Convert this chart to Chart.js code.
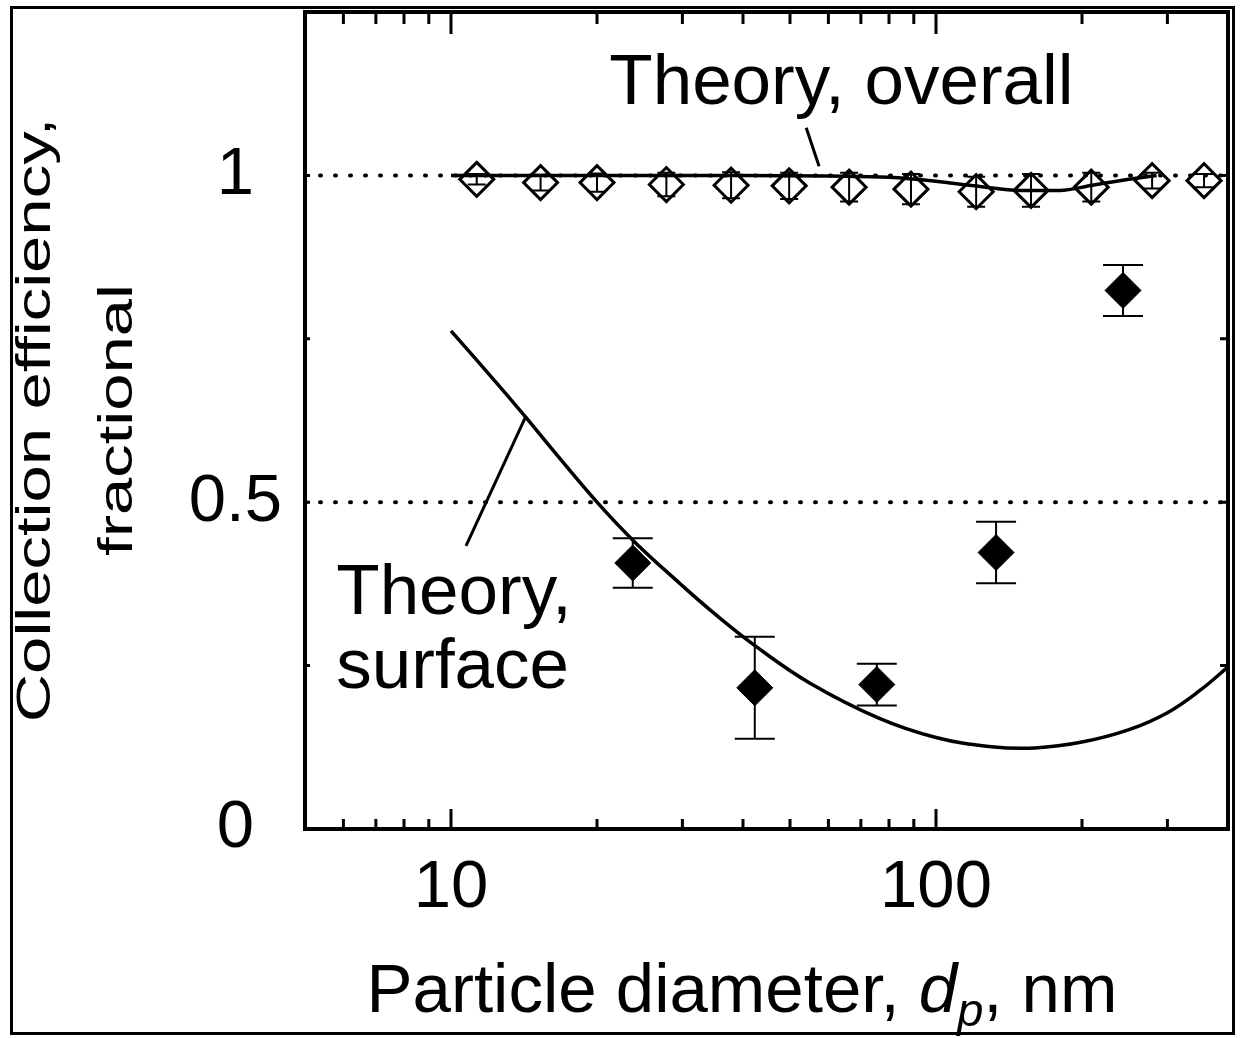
<!DOCTYPE html>
<html>
<head>
<meta charset="utf-8">
<script src="https://cdn.jsdelivr.net/npm/chart.js@4/dist/chart.umd.min.js"></script>
<style>
  html, body { margin: 0; padding: 0; background: #fff; }
  #wrap { width: 1243px; height: 1038px; }
</style>
</head>
<body>
<div id="wrap"><canvas id="effChart" width="1243" height="1038"></canvas></div>
<script>
// measured points, overall collection (open diamonds)
const overallDiam = [11.3, 15.3, 20, 27.8, 37.8, 49.8, 66.2, 88.8, 121, 157, 209, 279, 357];
const overallEff = [0.994, 0.989, 0.989, 0.986, 0.985, 0.984, 0.982, 0.979, 0.975, 0.977, 0.982, 0.992, 0.992];
const overallErr = [0.008, 0.012, 0.014, 0.018, 0.02, 0.02, 0.022, 0.023, 0.023, 0.025, 0.022, 0.012, 0.01];

// measured points, surface collection (filled diamonds)
const surfaceDiam = [23.7, 42.3, 75.5, 133, 243];
const surfaceEff = [0.407, 0.216, 0.221, 0.423, 0.824];
const surfaceErr = [0.038, 0.078, 0.032, 0.047, 0.039];

// theory curves
const theoryOverallDiam = [10, 20, 40, 60, 80, 100, 120, 150, 180, 210, 250, 285];
const theoryOverallEff = [1, 1, 1, 0.999, 0.997, 0.991, 0.984, 0.977, 0.977, 0.985, 0.994, 1.0];
const theorySurfaceDiam = [10, 12.5, 14.3, 16, 20, 24, 29.5, 35, 42.6, 55, 76, 100, 130, 160, 200, 250, 300, 350, 400];
const theorySurfaceEff = [0.762, 0.68, 0.629, 0.585, 0.5, 0.438, 0.377, 0.329, 0.279, 0.223, 0.17, 0.14, 0.126, 0.124, 0.133, 0.152, 0.178, 0.212, 0.248];

// dotted reference levels
const refLevels = [1, 0.5];

// axes
const xMin = 5, xMax = 400;
const xTickValues = [5, 6, 7, 8, 9, 10, 20, 30, 40, 50, 60, 70, 80, 90, 100, 200, 300, 400];
const xLabelValues = [10, 100];
const yTickValues = [0, 0.25, 0.5, 0.75, 1, 1.25];
const yLabelValues = [0, 0.5, 1];

// annotation anchors (data coords)
const overallNote = { x: 21.2, y: 1.11 };
const surfaceNote = { x: 5.8, y1: 0.329, y2: 0.216 };
const overallLeader = [{ x: 54, y: 1.073 }, { x: 57.4, y: 1.014 }];
const surfaceLeader = [{ x: 10.74, y: 0.433 }, { x: 14.28, y: 0.632 }];

const FONT = '"Liberation Sans", Arial, Helvetica, sans-serif';

const pts = (xs, ys) => xs.map((x, i) => ({ x: x, y: ys[i] }));

const errorBars = {
  id: 'errorBars',
  afterDatasetsDraw(chart) {
    const ctx = chart.ctx;
    const x = chart.scales.x, y = chart.scales.y;
    ctx.save();
    ctx.strokeStyle = '#000';
    ctx.lineWidth = 2;
    const draw = (xs, ys, es, cap) => {
      xs.forEach((d, i) => {
        const px = x.getPixelForValue(d);
        const top = y.getPixelForValue(ys[i] + es[i]);
        const bot = y.getPixelForValue(ys[i] - es[i]);
        ctx.beginPath();
        ctx.moveTo(px, top); ctx.lineTo(px, bot);
        ctx.moveTo(px - cap, top); ctx.lineTo(px + cap, top);
        ctx.moveTo(px - cap, bot); ctx.lineTo(px + cap, bot);
        ctx.stroke();
      });
    };
    draw(overallDiam, overallEff, overallErr, 9);
    draw(surfaceDiam, surfaceEff, surfaceErr, 20);
    ctx.restore();
  }
};

const frameAndText = {
  id: 'frameAndText',
  afterDraw(chart) {
    const ctx = chart.ctx;
    const a = chart.chartArea;
    const x = chart.scales.x, y = chart.scales.y;
    ctx.save();
    ctx.strokeStyle = '#000';
    ctx.fillStyle = '#000';

    // inward ticks
    ctx.lineWidth = 3;
    ctx.beginPath();
    xTickValues.forEach(v => {
      const px = x.getPixelForValue(v);
      const major = xLabelValues.includes(v);
      ctx.moveTo(px, a.bottom); ctx.lineTo(px, a.bottom - (major ? 20 : 10));
      ctx.moveTo(px, a.top); ctx.lineTo(px, a.top + (major ? 22 : 12));
    });
    yTickValues.forEach(v => {
      const py = y.getPixelForValue(v);
      ctx.moveTo(a.left, py); ctx.lineTo(a.left + 5, py);
      ctx.moveTo(a.right, py); ctx.lineTo(a.right - 8, py);
    });
    ctx.stroke();

    // plot box
    ctx.lineWidth = 4;
    ctx.strokeRect(a.left, a.top, a.right - a.left, a.bottom - a.top);

    // outer frame
    ctx.lineWidth = 3;
    ctx.strokeRect(11.5, 7.5, 1222, 1026);

    // curve labels
    ctx.font = '71px ' + FONT;
    ctx.textAlign = 'left';
    ctx.textBaseline = 'alphabetic';
    ctx.fillText('Theory, overall', x.getPixelForValue(overallNote.x), y.getPixelForValue(overallNote.y));
    ctx.fillText('Theory,', x.getPixelForValue(surfaceNote.x), y.getPixelForValue(surfaceNote.y1));
    ctx.fillText('surface', x.getPixelForValue(surfaceNote.x), y.getPixelForValue(surfaceNote.y2));

    // x title with italic d and subscript p
    const parts = [
      { t: 'Particle diameter, ', f: '69px ' + FONT, dy: 0 },
      { t: 'd', f: 'italic 69px ' + FONT, dy: 0 },
      { t: 'p', f: 'italic 47px ' + FONT, dy: 14 },
      { t: ', nm', f: '69px ' + FONT, dy: 0 }
    ];
    let total = 0;
    parts.forEach(p => { ctx.font = p.f; p.w = ctx.measureText(p.t).width; total += p.w; });
    let cx = 742 - total / 2;
    parts.forEach(p => {
      ctx.font = p.f;
      ctx.fillText(p.t, cx, 1012 + p.dy);
      cx += p.w;
    });

    // y title, two rotated lines (condensed)
    ctx.font = '67px ' + FONT;
    ctx.textAlign = 'center';
    [['Collection efficiency,', 50], ['fractional', 132]].forEach(([t, bx]) => {
      ctx.save();
      ctx.translate(bx, 420);
      ctx.rotate(-Math.PI / 2);
      ctx.scale(1, 0.72);
      ctx.fillText(t, 0, 0);
      ctx.restore();
    });
    ctx.restore();
  }
};

const ctx = document.getElementById('effChart').getContext('2d');

new Chart(ctx, {
  type: 'scatter',
  data: {
    datasets: [
      {
        data: pts(surfaceDiam, surfaceEff),
        pointStyle: 'rectRot',
        pointRadius: 18,
        pointBackgroundColor: '#000',
        pointBorderColor: '#000',
        pointBorderWidth: 1
      },
      {
        data: pts(overallDiam, overallEff),
        pointStyle: 'rectRot',
        pointRadius: 17,
        pointBackgroundColor: 'rgba(0,0,0,0)',
        pointBorderColor: '#000',
        pointBorderWidth: 3
      },
      {
        data: pts(theoryOverallDiam, theoryOverallEff),
        showLine: true,
        borderColor: '#000',
        borderWidth: 3.5,
        pointRadius: 0,
        cubicInterpolationMode: 'monotone'
      },
      {
        data: pts(theorySurfaceDiam, theorySurfaceEff),
        showLine: true,
        borderColor: '#000',
        borderWidth: 3.5,
        pointRadius: 0,
        tension: 0.4
      },
      {
        data: overallLeader,
        showLine: true,
        borderColor: '#000',
        borderWidth: 3,
        pointRadius: 0
      },
      {
        data: surfaceLeader,
        showLine: true,
        borderColor: '#000',
        borderWidth: 3,
        pointRadius: 0
      },
      ...refLevels.map(level => ({
        data: [{ x: xMin, y: level }, { x: xMax, y: level }],
        showLine: true,
        borderColor: '#000',
        borderWidth: 4,
        borderDash: [1, 14],
        borderCapStyle: 'round',
        pointRadius: 0
      }))
    ]
  },
  options: {
    responsive: false,
    animation: false,
    devicePixelRatio: 1,
    events: [],
    layout: { autoPadding: false, padding: { top: 12, right: 15, left: 0, bottom: 0 } },
    plugins: {
      legend: { display: false },
      tooltip: { enabled: false }
    },
    scales: {
      x: {
        type: 'logarithmic',
        min: xMin,
        max: xMax,
        afterBuildTicks: (scale) => { scale.ticks = xTickValues.map(v => ({ value: v })); },
        afterFit: (scale) => {
          scale.height = 209;
          scale.paddingLeft = 0; scale.paddingRight = 0;
          scale.paddingTop = 0; scale.paddingBottom = 0;
        },
        grid: { display: false, drawTicks: false },
        border: { display: false },
        ticks: {
          autoSkip: false,
          maxRotation: 0,
          minRotation: 0,
          padding: 19,
          color: '#000',
          font: { family: FONT, size: 67 },
          callback: (v) => xLabelValues.includes(v) ? String(v) : ''
        }
      },
      y: {
        min: 0,
        max: 1.25,
        afterBuildTicks: (scale) => { scale.ticks = yTickValues.map(v => ({ value: v })); },
        afterFit: (scale) => {
          scale.width = 305;
          scale.paddingLeft = 0; scale.paddingRight = 0;
          scale.paddingTop = 0; scale.paddingBottom = 0;
        },
        grid: { display: false, drawTicks: false },
        border: { display: false },
        ticks: {
          autoSkip: false,
          crossAlign: 'center',
          padding: 23,
          color: '#000',
          font: { family: FONT, size: 67 },
          callback: (v) => yLabelValues.includes(v) ? String(v) : ''
        }
      }
    }
  },
  plugins: [errorBars, frameAndText]
});
</script>
</body>
</html>
